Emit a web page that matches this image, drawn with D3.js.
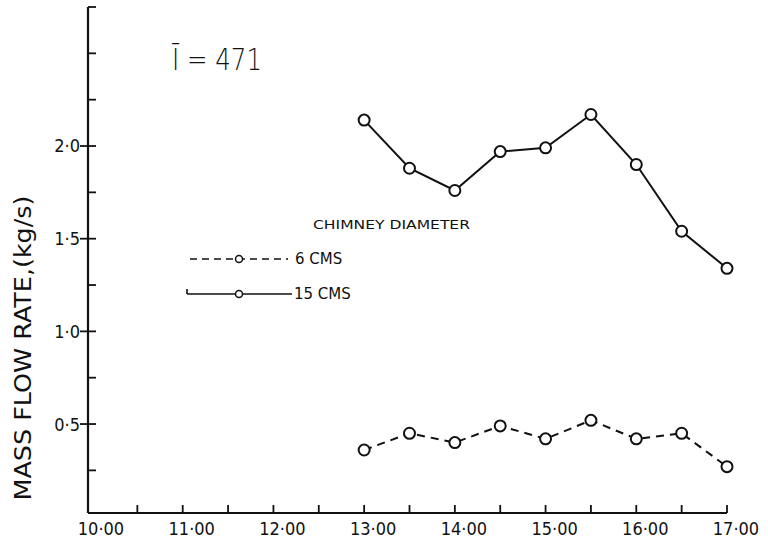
<!DOCTYPE html>
<html><head><meta charset="utf-8">
<script src="https://cdn.jsdelivr.net/npm/d3@7"></script>
<style>
body{margin:0;background:#fff;}
text{font-family:"DejaVu Sans",sans-serif;font-stretch:condensed;fill:#111;}
</style></head>
<body><svg id="c" width="768" height="548"></svg>
<script>
const times = [13.0,13.5,14.0,14.5,15.0,15.5,16.0,16.5,17.0];
const cms15 = [2.14,1.88,1.76,1.97,1.99,2.17,1.90,1.54,1.34];
const cms6  = [0.36,0.45,0.40,0.49,0.42,0.52,0.42,0.45,0.27];
const xTickLabels = ["10·00","11·00","12·00","13·00","14·00","15·00","16·00","17·00"];
const xTickHours = [10,11,12,13,14,15,16,17];
const yTickValues = [0.5,1.0,1.5,2.0];
const yTickLabels = ["0·5","1·0","1·5","2·0"];
const yMinorValues = [0.25,0.75,1.25,1.75,2.25,2.5,2.75];
const xMinorValues = [10.5,11.5,12.5,13.5,14.5,15.5,16.5];

const svg = d3.select("#c");
const x = d3.scaleLinear().domain([10,17]).range([92,727]);
const y = d3.scaleLinear().domain([0.02,2.75]).range([513,7]);
const axisX0 = 88, axisY0 = 513;
const ink = "#111";

// axes lines
svg.append("line").attr("x1",axisX0).attr("x2",axisX0).attr("y1",y(2.75)).attr("y2",axisY0).attr("stroke",ink).attr("stroke-width",2.2);
svg.append("line").attr("x1",axisX0).attr("x2",x(17)).attr("y1",axisY0).attr("y2",axisY0).attr("stroke",ink).attr("stroke-width",2.2);

// y ticks
svg.selectAll(".ymin").data(yMinorValues).enter().append("line")
  .attr("x1",axisX0).attr("x2",axisX0+8).attr("y1",d=>y(d)).attr("y2",d=>y(d)).attr("stroke",ink).attr("stroke-width",1.8);
svg.selectAll(".ymaj").data(yTickValues).enter().append("line")
  .attr("x1",axisX0-8).attr("x2",axisX0+8).attr("y1",d=>y(d)).attr("y2",d=>y(d)).attr("stroke",ink).attr("stroke-width",1.8);
svg.selectAll(".ylab").data(yTickValues).enter().append("text")
  .attr("x",axisX0-8).attr("y",d=>y(d)).attr("dy","0.36em").attr("text-anchor","end")
  .attr("font-size",18).text((d,i)=>yTickLabels[i]);

// x ticks
svg.selectAll(".xt").data(xMinorValues.concat(xTickHours.slice(1))).enter().append("line")
  .attr("x1",d=>x(d)).attr("x2",d=>x(d)).attr("y1",axisY0).attr("y2",axisY0-8).attr("stroke",ink).attr("stroke-width",1.8);
svg.selectAll(".xlab").data(xTickHours).enter().append("text")
  .attr("x",d=>x(d)+9).attr("y",535).attr("text-anchor","middle")
  .attr("font-size",18).text((d,i)=>xTickLabels[i]);

// y axis title
svg.append("text").attr("transform","translate(31,348) rotate(-90)")
  .attr("text-anchor","middle").attr("font-size",23).style("font-stretch","normal")
  .attr("textLength",305).attr("lengthAdjust","spacingAndGlyphs")
  .text("MASS  FLOW RATE,(kg/s)");

// lines
const line = d3.line().x((d,i)=>x(times[i])).y(d=>y(d));
svg.append("path").datum(cms15).attr("d",line).attr("fill","none").attr("stroke",ink).attr("stroke-width",2);
svg.append("path").datum(cms6).attr("d",line).attr("fill","none").attr("stroke",ink).attr("stroke-width",2).attr("stroke-dasharray","8,6");
[cms15,cms6].forEach(s=>{
  svg.append("g").selectAll("circle").data(s).enter().append("circle")
    .attr("cx",(d,i)=>x(times[i])).attr("cy",d=>y(d)).attr("r",5.5)
    .attr("fill","#fff").attr("stroke",ink).attr("stroke-width",2);
});

// annotation
svg.append("text").attr("x",172).attr("y",70).attr("font-size",31).style("font-weight","300")
  .attr("textLength",90).attr("lengthAdjust","spacingAndGlyphs").text("Ī = 471");

// legend
svg.append("text").attr("x",313).attr("y",229).attr("font-size",12.5).attr("textLength",157).attr("lengthAdjust","spacingAndGlyphs").text("CHIMNEY  DIAMETER");
svg.append("line").attr("x1",190).attr("x2",288).attr("y1",259).attr("y2",259).attr("stroke",ink).attr("stroke-width",1.6).attr("stroke-dasharray","7,5");
svg.append("circle").attr("cx",239).attr("cy",259).attr("r",3.5).attr("fill","#fff").attr("stroke",ink).attr("stroke-width",1.5);
svg.append("text").attr("x",295).attr("y",264).attr("font-size",15).style("font-stretch","normal").text("6 CMS");
svg.append("line").attr("x1",187).attr("x2",292).attr("y1",294).attr("y2",294).attr("stroke",ink).attr("stroke-width",1.6);
svg.append("line").attr("x1",187).attr("x2",187).attr("y1",289).attr("y2",294).attr("stroke",ink).attr("stroke-width",1.6);
svg.append("circle").attr("cx",239).attr("cy",294).attr("r",3.5).attr("fill","#fff").attr("stroke",ink).attr("stroke-width",1.5);
svg.append("text").attr("x",294).attr("y",299).attr("font-size",15).style("font-stretch","normal").text("15 CMS");
</script></body></html>
